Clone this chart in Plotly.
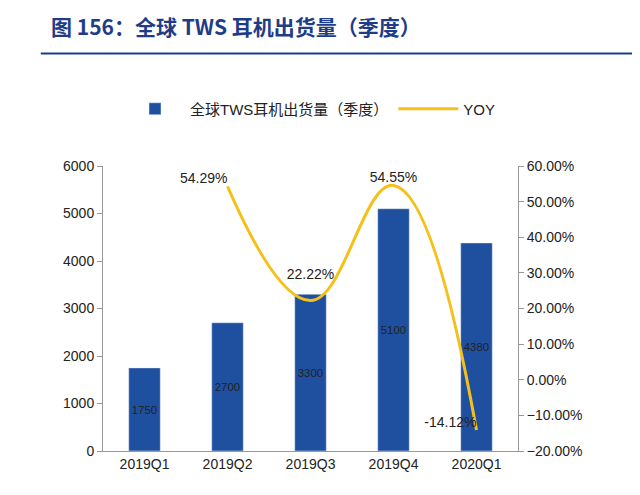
import plotly.graph_objects as go

quarters = ['2019Q1', '2019Q2', '2019Q3', '2019Q4', '2020Q1']
shipments = [1750, 2700, 3300, 5100, 4380]
yoy_q = ['2019Q2', '2019Q3', '2019Q4', '2020Q1']
yoy = [54.29, 22.22, 54.55, -14.12]
yoy_text = ['54.29%', '22.22%<br> ', '54.55%', '-14.12%']

fig = go.Figure()
fig.add_trace(go.Bar(
    x=quarters, y=shipments, name='全球TWS耳机出货量（季度）',
    marker_color='#1F50A0', width=0.38,
    text=[str(v) for v in shipments], textposition='inside', insidetextanchor='middle',
    textangle=0, textfont=dict(color='#222', size=14),
))
fig.add_trace(go.Scatter(
    x=yoy_q, y=yoy, name='YOY', yaxis='y2', mode='lines+text',
    line=dict(color='#F5C01A', width=3, shape='spline', smoothing=1.2),
    text=yoy_text, textposition=['top left', 'top center', 'top center', 'top left'],
    textfont=dict(color='#222', size=14),
))

fig.update_layout(
    width=640, height=495, plot_bgcolor='white', paper_bgcolor='white',
    font=dict(family='Liberation Sans, Noto Sans CJK SC', size=14, color='#222'),
    margin=dict(l=95, r=130, t=158, b=52),
    showlegend=True,
    legend=dict(orientation='h', x=0.5, xanchor='center', y=1.2, yanchor='middle',
                font=dict(size=15), itemwidth=60),
    bargap=0.5,
    xaxis=dict(showline=True, linecolor='#999', ticks='', tickfont=dict(size=14)),
    yaxis=dict(range=[0, 6000], dtick=1000, showgrid=False, showline=True, linecolor='#999',
               ticks='outside', tickcolor='#999', tickfont=dict(size=14)),
    yaxis2=dict(range=[-20, 60], dtick=10, overlaying='y', side='right', showgrid=False,
                showline=True, linecolor='#999', ticks='outside', tickcolor='#999',
                ticksuffix='%', tickformat='.2f', tickfont=dict(size=14)),
    shapes=[dict(type='line', xref='paper', yref='paper', x0=-0.15, x1=1.3,
                 y0=1.395, y1=1.395, line=dict(color='#1F3C88', width=2))],
    annotations=[dict(text='<b>图 156：全球 TWS 耳机出货量（季度）</b>', xref='paper', yref='paper',
                      x=-0.13, y=1.43, xanchor='left', yanchor='bottom', showarrow=False,
                      font=dict(size=21, color='#1F3C88', family='Noto Sans CJK SC'))],
)
fig.write_html('out.html')
